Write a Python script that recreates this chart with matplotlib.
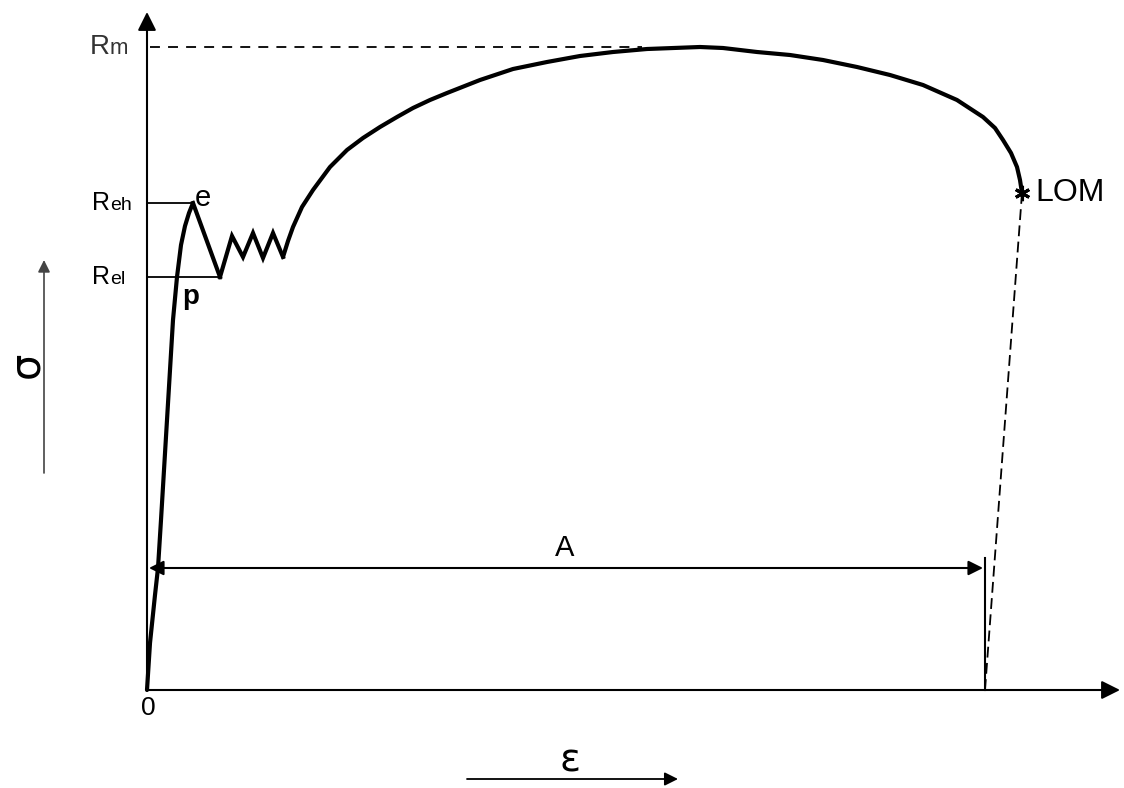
import matplotlib.pyplot as plt

# stress-strain curve (strain units, stress units), origin at 0,0
elastic_x = [0, 3, 8, 11, 14, 20, 26, 30, 34, 38, 42, 46]
elastic_y = [0, 47, 95, 122, 170, 270, 370, 413, 445, 464, 477, 487]
drop_x = [46, 73]
drop_y = [487, 413]
zigzag_x = [73, 85, 96, 106, 116, 126, 136]
zigzag_y = [413, 454, 433, 457, 432, 457, 433]
harden_x = [136, 141, 146, 155, 166, 183, 200, 216, 233, 250, 266, 283, 300,
            333, 366, 400, 433, 466, 500, 553, 576, 610, 643, 676, 710,
            743, 776, 810, 836, 848, 856, 864, 870, 873, 875]
harden_y = [433, 449, 463, 483, 500, 523, 540, 552, 563, 573, 582, 590, 597,
            610, 621, 628, 634, 638, 641, 643, 642, 638, 635, 630, 623,
            615, 605, 590, 573, 562, 550, 537, 523, 510, 497]

Rm, Reh, Rel = 643, 487, 413
break_x, break_y = 875, 497
A_end = 838

fig = plt.figure(figsize=(11.24, 7.88), dpi=100)
ax = fig.add_axes([0, 0, 1, 1])
ax.set_xlim(-147, 977)
ax.set_ylim(-98, 690)
ax.axis('off')

font = 'Liberation Sans'

# axes with arrows
ax.annotate('', xy=(0, 678), xytext=(0, 0),
            arrowprops=dict(arrowstyle='-|>', lw=1.5, color='black', mutation_scale=28, shrinkA=0, shrinkB=0))
ax.annotate('', xy=(973, 0), xytext=(0, 0),
            arrowprops=dict(arrowstyle='-|>', lw=1.5, color='black', mutation_scale=28, shrinkA=0, shrinkB=0))

# curve
ax.plot(elastic_x, elastic_y, color='black', lw=3, solid_capstyle='round', solid_joinstyle='round')
ax.plot(drop_x, drop_y, color='black', lw=3, solid_joinstyle='miter')
ax.plot(zigzag_x, zigzag_y, color='black', lw=3, solid_joinstyle='miter')
ax.plot(harden_x, harden_y, color='black', lw=3, solid_capstyle='round', solid_joinstyle='round')

# reference levels
ax.plot([3, 495], [Rm, Rm], color='black', lw=1.3, ls=(0, (5.5, 4.5)))
ax.plot([0, 46], [Reh, Reh], color='black', lw=1.3)
ax.plot([0, 73], [Rel, Rel], color='black', lw=1.3)

# unloading line after fracture
ax.plot([break_x, A_end], [break_y, 0], color='black', lw=1.3, ls=(0, (6, 3)))
ax.plot(break_x, break_y, marker=(6, 2, 0), color='black', ms=11, mew=2.2)
ax.plot([A_end, A_end], [0, 132], color='black', lw=1.5)

# elongation A
ax.annotate('', xy=(A_end - 2, 122), xytext=(2, 122),
            arrowprops=dict(arrowstyle='<|-|>', lw=1.5, color='black', mutation_scale=22, shrinkA=0, shrinkB=0))
ax.text(418, 142, 'A', fontsize=21, family=font, ha='center', va='center')

# level labels: capital R plus smaller suffix on the same baseline
labels = [(Rm, 'm', 20, 16, -37, '#333333'), (Reh, 'eh', 18, 14, -37, 'black'), (Rel, 'el', 18, 14, -37, 'black')]
for level, suffix, big, small, xr, col in labels:
    ax.text(xr, level - 7, 'R', fontsize=big, family=font, ha='right', va='baseline', color=col)
    ax.text(xr, level - 7, suffix, fontsize=small, family=font, ha='left', va='baseline', color=col)

ax.text(48, Reh + 5, 'e', fontsize=21, family=font, ha='left', va='center')
ax.text(35, 393, 'p', fontsize=20, family=font, ha='left', va='center', fontweight='bold')
ax.text(888, break_y, 'LOM', fontsize=23, family=font, ha='left', va='center')
ax.text(1, -18, '0', fontsize=19, family=font, ha='center', va='center')

# sigma and epsilon with direction arrows
ax.text(-121, 325, 'σ', fontsize=30, family='DejaVu Sans', rotation=90, ha='center', va='center')
ax.annotate('', xy=(-103, 430), xytext=(-103, 217),
            arrowprops=dict(arrowstyle='-|>', lw=1.2, color='#444444', mutation_scale=18, shrinkA=0, shrinkB=0))
ax.text(423, -70, 'ε', fontsize=28, family='DejaVu Sans', ha='center', va='center')
ax.annotate('', xy=(531, -89), xytext=(320, -89),
            arrowprops=dict(arrowstyle='-|>', lw=1.3, color='black', mutation_scale=20, shrinkA=0, shrinkB=0))

fig.savefig('out.png', dpi=100, facecolor='white')
